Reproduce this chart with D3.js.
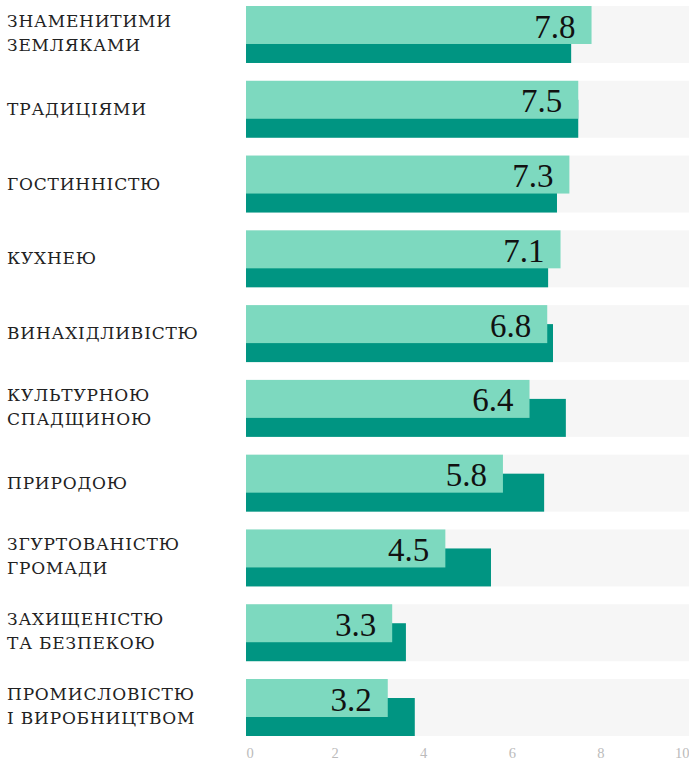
<!DOCTYPE html>
<html><head><meta charset="utf-8">
<script src="https://cdn.jsdelivr.net/npm/d3@7"></script>
<style>
html,body{margin:0;padding:0;background:#fff;}
svg{display:block;}
</style></head>
<body>
<svg id="chart" width="689" height="762"></svg>
<script>
const categories = [
  ["ЗНАМЕНИТИМИ","ЗЕМЛЯКАМИ"],
  ["ТРАДИЦІЯМИ"],
  ["ГОСТИННІСТЮ"],
  ["КУХНЕЮ"],
  ["ВИНАХІДЛИВІСТЮ"],
  ["КУЛЬТУРНОЮ","СПАДЩИНОЮ"],
  ["ПРИРОДОЮ"],
  ["ЗГУРТОВАНІСТЮ","ГРОМАДИ"],
  ["ЗАХИЩЕНІСТЮ","ТА БЕЗПЕКОЮ"],
  ["ПРОМИСЛОВІСТЮ","І ВИРОБНИЦТВОМ"]
];
const mainValues = [7.8, 7.5, 7.3, 7.1, 6.8, 6.4, 5.8, 4.5, 3.3, 3.2];
const compareValues = [7.34, 7.5, 7.02, 6.82, 6.93, 7.22, 6.73, 5.53, 3.61, 3.81];
const tickValues = [0, 2, 4, 6, 8, 10];

const numFont = "'Liberation Serif', 'DejaVu Serif', serif";
const lblFont = "'DejaVu Serif', 'Liberation Serif', serif";
const svg = d3.select("#chart");
const x = d3.scaleLinear().domain([0, 10]).range([246, 689]);
const y = d3.scaleBand().domain(d3.range(categories.length)).range([6, 736]).paddingInner(17.8/74.8).paddingOuter(0);
const bh = y.bandwidth();

const rows = svg.selectAll("g.row").data(categories).join("g")
  .attr("class","row")
  .attr("transform", (d,i) => `translate(0,${y(i)})`);

rows.append("rect").attr("x", x(0)).attr("y", 0).attr("width", x(10)-x(0)).attr("height", bh).attr("fill", "#f6f6f6");
rows.append("rect").attr("x", x(0)).attr("y", bh/3).attr("width", (d,i)=>x(compareValues[i])-x(0)).attr("height", bh*2/3).attr("fill", "#009582");
rows.append("rect").attr("x", x(0)).attr("y", 0).attr("width", (d,i)=>x(mainValues[i])-x(0)).attr("height", bh*2/3).attr("fill", "#7dd9bf");
rows.append("text")
  .attr("x", (d,i)=>x(mainValues[i]) - 16)
  .attr("y", 31.5)
  .attr("text-anchor","end")
  .style("font-family", numFont)
  .attr("font-size", 33)
  .attr("fill","#111")
  .text((d,i)=>mainValues[i].toFixed(1));

const lbl = rows.append("text")
  .style("font-family", lblFont)
  .attr("font-size", 17)
  .attr("letter-spacing", "0.8px")
  .attr("fill","#222");
lbl.each(function(d){
  const t = d3.select(this);
  const base = d.length === 1 ? 34 : 20.7;
  d.forEach((line, k) => {
    t.append("tspan").attr("x", 7).attr("y", base + k*24).text(line);
  });
});

const axis = d3.axisBottom(x).tickValues(tickValues).tickSize(0).tickFormat(d3.format("d"));
const ag = svg.append("g").attr("transform", `translate(0,${y(9)+bh})`).call(axis);
ag.select(".domain").remove();
ag.selectAll("text")
  .attr("y", 22)
  .attr("dy", 0)
  .style("font-family", numFont)
  .attr("font-size", 14.5)
  .attr("fill","#bbb")
  .attr("text-anchor", (d,i)=> i===0 ? "start" : (i===tickValues.length-1 ? "end" : "middle"));
</script>
</body></html>
